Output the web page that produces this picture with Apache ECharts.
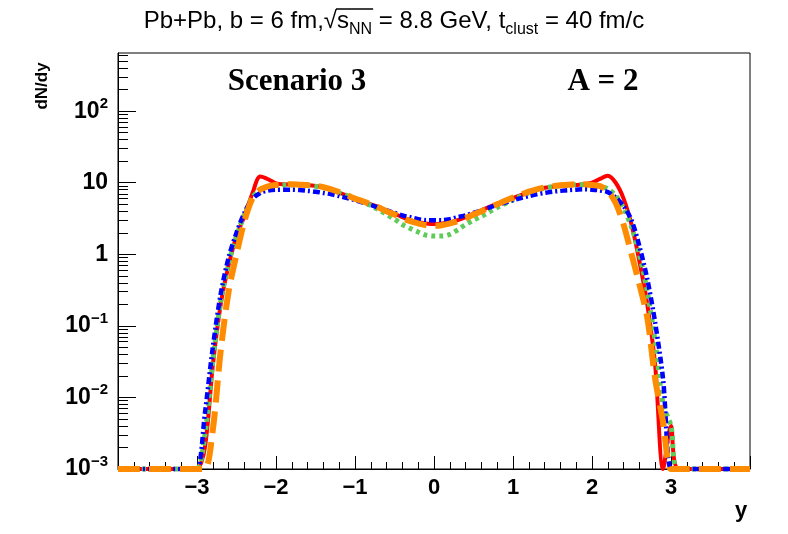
<!DOCTYPE html>
<html>
<head>
<meta charset="utf-8">
<script src="https://cdn.jsdelivr.net/npm/echarts@6.0.0/dist/echarts.min.js"></script>
<style>
  html, body { margin: 0; padding: 0; background: #fff; }
  #main { width: 788px; height: 534px; }
</style>
</head>
<body>
<div id="main"></div>
<script>
// rapidity bins (y)
var rapidity = [-4.0, -3.1, -3.0, -2.9, -2.8, -2.7, -2.6, -2.5, -2.4, -2.3, -2.2, -2.1,
    -2.0, -1.9, -1.8, -1.7, -1.6, -1.5, -1.4, -1.3, -1.2, -1.1, -1.0, -0.9, -0.8, -0.7,
    -0.6, -0.5, -0.4, -0.3, -0.2, -0.1, 0.0, 0.1, 0.2, 0.3, 0.4, 0.5, 0.6, 0.7, 0.8, 0.9,
    1.0, 1.1, 1.2, 1.3, 1.4, 1.5, 1.6, 1.7, 1.8, 1.9, 2.0, 2.1, 2.2, 2.3, 2.4, 2.5, 2.6,
    2.7, 2.8, 2.9, 3.0, 3.1, 4.0];

// dN/dy, one list per curve (0.001 = empty bin, sits on the floor)
var redSolid = [0.001, 0.001, 0.001, 0.002, 0.028, 0.2, 0.7, 1.8, 3.4, 7.0, 12.2, 11.2,
    9.8, 9.5, 9.4, 9.3, 9.2, 9.0, 8.6, 8.0, 7.3, 6.6, 6.0, 5.5, 5.0, 4.6,
    4.1, 3.7, 3.3, 3.0, 2.8, 2.7, 2.65, 2.7, 2.8, 3.0, 3.3, 3.7, 4.1, 4.6, 5.1, 5.6,
    6.1, 6.7, 7.4, 8.0, 8.5, 8.8, 9.1, 9.2, 9.3, 9.5, 10.0, 11.3, 12.5, 10.0, 6.0, 2.6, 0.8,
    0.2, 0.028, 0.001, 0.004, 0.001, 0.001];

var greenDotted = [0.001, 0.001, 0.001, 0.003, 0.032, 0.22, 0.75, 1.8, 3.6, 6.2, 8.0, 8.8,
    9.2, 9.3, 9.3, 9.2, 9.1, 8.9, 8.5, 7.9, 7.2, 6.6, 6.0, 5.4, 4.8, 4.2,
    3.6, 3.1, 2.6, 2.3, 2.05, 1.85, 1.8, 1.8, 1.9, 2.2, 2.6, 3.0, 3.4, 3.9, 4.5, 5.1,
    5.8, 6.5, 7.2, 7.9, 8.4, 8.8, 9.1, 9.3, 9.4, 9.4, 9.3, 9.0, 8.2, 6.6, 4.4, 2.4, 1.0,
    0.3, 0.06, 0.008, 0.004, 0.001, 0.001];

var blueDashDot = [0.001, 0.001, 0.001, 0.006, 0.05, 0.28, 0.9, 2.0, 3.8, 5.9, 7.2, 7.8,
    8.0, 8.0, 8.0, 7.9, 7.7, 7.5, 7.2, 6.9, 6.5, 6.1, 5.7, 5.3, 4.9, 4.5,
    4.1, 3.8, 3.5, 3.3, 3.1, 3.0, 3.0, 3.0, 3.1, 3.3, 3.5, 3.8, 4.1, 4.5, 4.9, 5.3,
    5.7, 6.1, 6.5, 6.9, 7.2, 7.5, 7.7, 7.9, 8.0, 8.1, 8.0, 7.8, 7.4, 6.2, 4.7, 3.0, 1.3,
    0.45, 0.11, 0.018, 0.001, 0.001, 0.001];

var orangeDashed = [0.001, 0.001, 0.001, 0.001, 0.0035, 0.045, 0.3, 1.0, 2.9, 6.0, 8.0, 8.9,
    9.3, 9.5, 9.5, 9.4, 9.3, 9.1, 8.7, 8.1, 7.4, 6.7, 6.0, 5.5, 5.0, 4.5,
    4.0, 3.6, 3.2, 2.9, 2.7, 2.55, 2.5, 2.55, 2.7, 2.9, 3.2, 3.6, 4.0, 4.5, 5.0, 5.6,
    6.2, 6.8, 7.5, 8.1, 8.6, 8.9, 9.2, 9.4, 9.5, 9.5, 9.3, 9.0, 7.6, 5.2, 2.6, 1.0, 0.38,
    0.13, 0.018, 0.0045, 0.001, 0.001, 0.001];

var xTickValues = [-3, -2, -1, 0, 1, 2, 3];
var xTickLabels = ['\u22123', '\u22122', '\u22121', '0', '1', '2', '3'];
var yTickValues = [0.001, 0.01, 0.1, 1, 10, 100];
var yTickBase = ['10', '10', '10', '1', '10', '10'];
var yTickExp = ['\u22123', '\u22122', '\u22121', '', '', '2'];
var yMinorValues = [0.002, 0.003, 0.004, 0.005, 0.006, 0.007, 0.008, 0.009,
    0.02, 0.03, 0.04, 0.05, 0.06, 0.07, 0.08, 0.09,
    0.2, 0.3, 0.4, 0.5, 0.6, 0.7, 0.8, 0.9,
    2, 3, 4, 5, 6, 7, 8, 9,
    20, 30, 40, 50, 60, 70, 80, 90,
    200, 300, 400, 500, 600];

// title pieces: [text, isSubscript]
var titleParts = [['Pb+Pb, b = 6 fm,\u221A', false], ['s', false], ['NN', true],
    [' = 8.8 GeV, t', false], ['clust', true], [' = 40 fm/c', false]];

var Y_MIN = 0.001, Y_MAX = 650;

var font = '"Liberation Sans", Arial, Helvetica, sans-serif';
var serif = '"Liberation Serif", "Times New Roman", serif';
var TITLE_SIZE = 24, SUB_SIZE = 16;

function pairs(ys) {
    var out = [];
    for (var i = 0; i < rapidity.length; i++) {
        out.push([rapidity[i], ys[i]]);
    }
    return out;
}

function curve(name, ys, color, width, dash) {
    return {
        name: name,
        type: 'line',
        data: pairs(ys),
        showSymbol: false,
        smooth: 0.3,
        clip: false,
        lineStyle: { color: color, width: width, type: dash, cap: 'butt' }
    };
}

function yLabel(v) {
    for (var i = 0; i < yTickValues.length; i++) {
        if (Math.abs(Math.log10(v) - Math.log10(yTickValues[i])) < 1e-6) {
            if (yTickExp[i] === '') return '{b|' + yTickBase[i] + '}';
            return '{b|' + yTickBase[i] + '}{s|' + yTickExp[i] + '}';
        }
    }
    return '';
}

function xLabel(v) {
    var i = xTickValues.indexOf(Math.round(v));
    return i < 0 ? '' : xTickLabels[i];
}

// width of each title piece, so the bar over sqrt(s_NN) can be placed
function measureTitle() {
    var ctx = document.createElement('canvas').getContext('2d');
    var widths = [], total = 0;
    for (var i = 0; i < titleParts.length; i++) {
        ctx.font = (titleParts[i][1] ? SUB_SIZE : TITLE_SIZE) + 'px ' + font;
        var w = ctx.measureText(titleParts[i][0]).width;
        widths.push(w);
        total += w;
    }
    var left = 394 - total / 2;
    var x1 = left + widths[0] - 1;
    var x2 = left + widths[0] + widths[1] + widths[2] + 1;
    return { x1: x1, x2: x2 };
}

function titleText() {
    var s = '';
    for (var i = 0; i < titleParts.length; i++) {
        s += '{' + (titleParts[i][1] ? 'sub' : 'n') + '|' + titleParts[i][0] + '}';
    }
    return s;
}

var chart = echarts.init(document.getElementById('main'), null, { renderer: 'canvas' });
var bar = measureTitle();

var option = {
    animation: false,
    backgroundColor: '#fff',
    title: {
        left: 'center',
        top: 4,
        padding: 0,
        text: titleText(),
        textStyle: {
            fontWeight: 'normal',
            rich: {
                n: { fontFamily: font, fontSize: TITLE_SIZE, fontWeight: 'normal', color: '#000', lineHeight: 34 },
                sub: { fontFamily: font, fontSize: SUB_SIZE, fontWeight: 'normal', color: '#000', lineHeight: 14, verticalAlign: 'bottom' }
            }
        }
    },
    grid: {
        left: 118, right: 38, top: 53, bottom: 65,
        show: true, borderColor: '#000', borderWidth: 1, backgroundColor: 'transparent'
    },
    xAxis: {
        type: 'value',
        min: -4, max: 4, interval: 1,
        axisLine: { onZero: false, lineStyle: { color: '#000', width: 1 } },
        axisTick: { inside: true, length: 13, lineStyle: { color: '#000' } },
        minorTick: { show: true, splitNumber: 5, length: 7, lineStyle: { color: '#000' } },
        splitLine: { show: false },
        axisLabel: {
            customValues: xTickValues,
            formatter: xLabel,
            margin: 8,
            color: '#000', fontFamily: font, fontSize: 22, fontWeight: 'bold'
        }
    },
    yAxis: [{
        type: 'log', logBase: 10,
        min: Y_MIN, max: Y_MAX,
        position: 'left',
        axisLine: { show: true, onZero: false, lineStyle: { color: '#000', width: 1 } },
        axisTick: { inside: true, length: 18, customValues: yTickValues, lineStyle: { color: '#000' } },
        splitLine: { show: false },
        axisLabel: {
            customValues: yTickValues,
            formatter: yLabel,
            margin: 10,
            rich: {
                b: { fontFamily: font, fontSize: 23, fontWeight: 'bold', color: '#000', lineHeight: 30 },
                s: { fontFamily: font, fontSize: 15, fontWeight: 'bold', color: '#000', lineHeight: 17, verticalAlign: 'top' }
            }
        }
    }, {
        type: 'log', logBase: 10,
        min: Y_MIN, max: Y_MAX,
        position: 'left',
        axisLine: { show: false, onZero: false },
        axisTick: { inside: true, length: 10, customValues: yMinorValues, lineStyle: { color: '#000' } },
        splitLine: { show: false },
        axisLabel: { show: false }
    }],
    graphic: [
        { type: 'line', shape: { x1: bar.x1, y1: 9, x2: bar.x2, y2: 9 }, style: { stroke: '#000', lineWidth: 1.3 } },
        { type: 'text', style: { text: 'Scenario 3', x: 297, y: 82, font: 'bold 31px ' + serif, fill: '#000', textAlign: 'center', textVerticalAlign: 'middle' } },
        { type: 'text', style: { text: 'A = 2', x: 603, y: 82, font: 'bold 31px ' + serif, fill: '#000', textAlign: 'center', textVerticalAlign: 'middle' } },
        { type: 'text', x: 42, y: 86, rotation: Math.PI / 2, style: { text: 'dN/dy', x: 0, y: 0, font: 'bold 17px ' + font, fill: '#000', textAlign: 'center', textVerticalAlign: 'middle' } },
        { type: 'text', style: { text: 'y', x: 741, y: 511, font: 'bold 22px ' + font, fill: '#000', textAlign: 'center', textVerticalAlign: 'middle' } }
    ],
    series: [
        curve('solid', redSolid, '#ff0000', 4, 'solid'),
        curve('dotted', greenDotted, '#5fcc5a', 5, [4, 4]),
        curve('dashdot', blueDashDot, '#0000ff', 4.5, [7, 3, 2, 3]),
        curve('dashed', orangeDashed, '#ff8c00', 6, [22, 9])
    ]
};

chart.setOption(option);
</script>
</body>
</html>
